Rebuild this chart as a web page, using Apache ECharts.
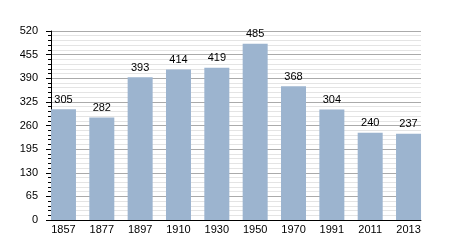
<!DOCTYPE html>
<html>
<head>
<meta charset="utf-8">
<script src="https://cdn.jsdelivr.net/npm/echarts@6/dist/echarts.min.js"></script>
<style>html,body{margin:0;padding:0;background:#fff;}#c{width:450px;height:250px;}</style>
</head>
<body>
<div id="c"></div>
<script>
const years = ['1857','1877','1897','1910','1930','1950','1970','1991','2011','2013'];
const population = [305, 282, 393, 414, 419, 485, 368, 304, 240, 237];
const yMin = 0, yMax = 520, yStep = 65;

const chart = echarts.init(document.getElementById('c'), null, {renderer: 'canvas'});
const font = 'Liberation Sans, Arial, sans-serif';
chart.setOption({
  animation: false,
  backgroundColor: '#fff',
  grid: [
    {left: 51, right: 29, top: 31, height: 189},
    {left: 44.3, right: 22.3, top: 31, height: 189}
  ],
  xAxis: [
    {type: 'value', gridIndex: 0, min: 0, max: 1, axisLine: {show: true, lineStyle: {color: '#000', width: 1}},
     axisTick: {show: false}, axisLabel: {show: false}, splitLine: {show: false}},
    {type: 'category', gridIndex: 1, data: years, axisLine: {show: false}, axisTick: {show: false},
     axisLabel: {color: '#000', fontSize: 11, fontFamily: font, margin: 4}, splitLine: {show: false}}
  ],
  yAxis: [
    {type: 'value', gridIndex: 0, min: yMin, max: yMax, interval: yStep,
     axisLine: {show: true, lineStyle: {color: '#000', width: 1}},
     axisTick: {show: true, length: 5, lineStyle: {color: '#000'}},
     minorTick: {show: true, splitNumber: 5, length: 3, lineStyle: {color: '#000'}},
     axisLabel: {color: '#000', fontSize: 11, fontFamily: font, margin: 13},
     splitLine: {show: true, lineStyle: {color: '#aaaaaa', width: 1}},
     minorSplitLine: {show: true, lineStyle: {color: '#e4e4e4', width: 1}}},
    {type: 'value', gridIndex: 1, min: yMin, max: yMax, interval: yStep, show: false,
     splitLine: {show: false}}
  ],
  series: [{
    type: 'bar', xAxisIndex: 1, yAxisIndex: 1, data: population, barWidth: 25,
    itemStyle: {color: '#9cb4cf'},
    label: {show: true, position: 'top', distance: 4, color: '#000', fontSize: 11, fontFamily: font}
  }]
});
</script>
</body>
</html>
